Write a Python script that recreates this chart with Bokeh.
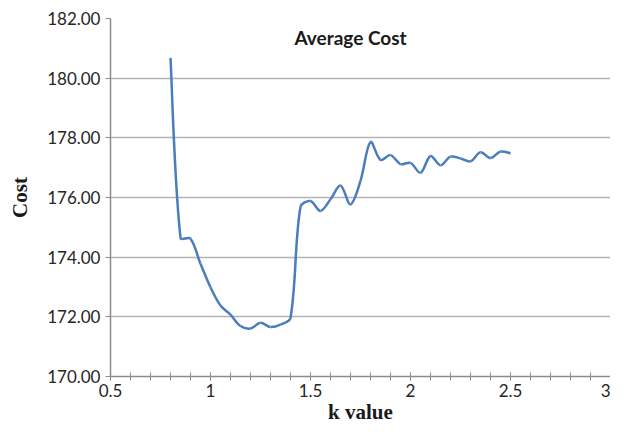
import math
from bokeh.plotting import figure
from bokeh.models import Range1d, Label, NumeralTickFormatter, FixedTicker
from bokeh.embed import file_html
from bokeh.resources import INLINE

k_values = [0.80, 0.85, 0.90, 0.95, 1.00, 1.05, 1.10, 1.15, 1.20, 1.25, 1.30, 1.35,
            1.40, 1.45, 1.50, 1.55, 1.60, 1.65, 1.70, 1.75, 1.80, 1.85, 1.90, 1.95,
            2.00, 2.05, 2.10, 2.15, 2.20, 2.25, 2.30, 2.35, 2.40, 2.45, 2.50]
avg_cost = [180.68, 174.65, 174.62, 173.78, 172.99, 172.38, 172.07, 171.69, 171.61, 171.80,
            171.66, 171.74, 171.96, 175.69, 175.88, 175.55, 175.94, 176.40, 175.77, 176.56,
            177.86, 177.26, 177.42, 177.12, 177.16, 176.83, 177.39, 177.08, 177.37, 177.31,
            177.21, 177.52, 177.32, 177.54, 177.48]
x_ticks = [0.5, 1.0, 1.5, 2.0, 2.5, 3.0]
y_ticks = [170, 172, 174, 176, 178, 180, 182]
title_text = "Average Cost"

p = figure(width=610, height=426, output_backend="svg", toolbar_location=None,
           x_range=Range1d(0.5, 3.0), y_range=Range1d(170, 182),
           min_border_left=110, min_border_right=0, min_border_top=18, min_border_bottom=30)
p.outline_line_color = None
p.background_fill_color = "white"
p.border_fill_color = "white"

# Smoothed line drawn as Bezier segments (spreadsheet-style smoothing);
# arm lengths proportional to neighbouring segment lengths (in on-screen proportions)
SX, SY = 200.0, 30.4
n = len(k_values)


def seg_len(a, b):
    return math.hypot((k_values[b] - k_values[a]) * SX, (avg_cost[b] - avg_cost[a]) * SY)


T = 1.0 / 3.0
out_arm = []  # (dx, dy) control arm leaving point i
in_arm = []   # (dx, dy) control arm entering point i
for i in range(n):
    pm = max(i - 1, 0)
    pn = min(i + 2 - 1, n - 1)
    tx = k_values[pn] - k_values[pm]
    ty = avg_cost[pn] - avg_cost[pm]
    d0 = seg_len(pm, i) if i > 0 else 0.0
    d1 = seg_len(i, pn) if i < n - 1 else 0.0
    tot = d0 + d1 if (d0 + d1) > 0 else 1.0
    if i == 0 or i == n - 1:
        fa = fb = T / 2
    else:
        fa = T * d0 / tot
        fb = T * d1 / tot
    in_arm.append((fa * tx, fa * ty))
    out_arm.append((fb * tx, fb * ty))

x0, y0, x1, y1, cx0, cy0, cx1, cy1 = [], [], [], [], [], [], [], []
for i in range(n - 1):
    x0.append(k_values[i]); y0.append(avg_cost[i])
    x1.append(k_values[i + 1]); y1.append(avg_cost[i + 1])
    cx0.append(k_values[i] + out_arm[i][0]); cy0.append(avg_cost[i] + out_arm[i][1])
    cx1.append(k_values[i + 1] - in_arm[i + 1][0]); cy1.append(avg_cost[i + 1] - in_arm[i + 1][1])
p.bezier(x0=x0, y0=y0, x1=x1, y1=y1, cx0=cx0, cy0=cy0, cx1=cx1, cy1=cy1,
         line_color="#4A7EBB", line_width=2.5)

# Axes
p.xaxis.ticker = FixedTicker(ticks=x_ticks,
                             minor_ticks=[0.5 + 0.1 * i for i in range(26)])
p.yaxis.ticker = FixedTicker(ticks=y_ticks, minor_ticks=[])
p.xaxis.formatter = NumeralTickFormatter(format="0.[0]")
p.yaxis.formatter = NumeralTickFormatter(format="0.00")

for ax in (p.xaxis, p.yaxis):
    ax.axis_line_color = "#8c8c8c"
    ax.axis_line_width = 1.5
    ax.major_tick_line_color = "#8c8c8c"
    ax.minor_tick_line_color = "#8c8c8c"
    ax.major_label_text_font = "Lato"
    ax.major_label_text_font_size = "17px"
    ax.major_label_text_color = "#262626"
    ax.axis_label_text_font = "Liberation Serif"
    ax.axis_label_text_font_style = "bold"
    ax.axis_label_text_font_size = "21px"
    ax.axis_label_text_color = "#1a1a1a"

p.xaxis.major_tick_in = 4
p.xaxis.major_tick_out = 4
p.xaxis.minor_tick_in = 4
p.xaxis.minor_tick_out = 4
p.xaxis.major_label_standoff = 3
p.xaxis.axis_label = "k value"
p.xaxis.axis_label_standoff = 0

p.yaxis.major_tick_in = 0
p.yaxis.major_tick_out = 5
p.yaxis.minor_tick_in = 0
p.yaxis.minor_tick_out = 0
p.yaxis.major_label_standoff = 5
p.yaxis.axis_label = "Cost"
p.yaxis.axis_label_standoff = 12

p.xgrid.grid_line_color = None
p.ygrid.ticker = FixedTicker(ticks=y_ticks)
p.ygrid.grid_line_color = "#b4b4b4"
p.ygrid.grid_line_width = 1.5

p.add_layout(Label(x=1.70, y=181.35, text=title_text,
                   text_font="Lato", text_font_style="bold", text_font_size="19px",
                   text_color="#1a1a1a", text_align="center", text_baseline="middle"))

open("out.html", "w").write(file_html(p, INLINE))
